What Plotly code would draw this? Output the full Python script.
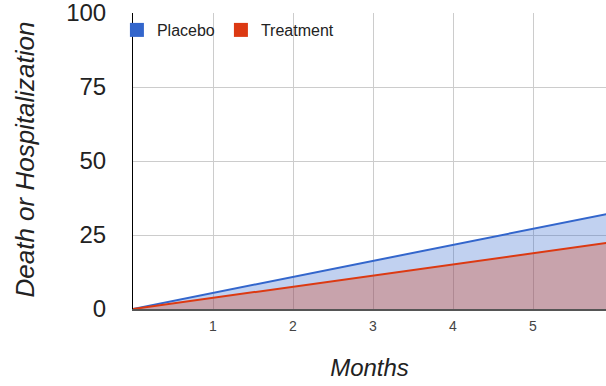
import plotly.graph_objects as go

# Cumulative event rate (%) by month
months = [0, 6]
placebo = [0, 32.5]
treatment = [0, 22.6]

series_names = ["Placebo", "Treatment"]
line_colors = ["#3366cc", "#dc3912"]
fill_colors = ["rgba(51,102,204,0.3)", "rgba(220,57,18,0.3)"]

y_ticks = [0, 25, 50, 75, 100]
x_ticks = [1, 2, 3, 4, 5]

fig = go.Figure()

for name, vals, lc, fc in zip(series_names, [placebo, treatment], line_colors, fill_colors):
    fig.add_trace(go.Scatter(
        x=months, y=vals, name=name, mode="lines",
        line=dict(color=lc, width=2),
        fill="tozeroy", fillcolor=fc,
        showlegend=False,
    ))

# square legend keys, one legend box per series so they can be spaced freely
legend_ids = ["legend", "legend2"]
for name, lc, lid in zip(series_names, line_colors, legend_ids):
    fig.add_trace(go.Scatter(
        x=[None], y=[None], name=name, mode="markers",
        marker=dict(symbol="square", size=14, color=lc),
        showlegend=True, legend=lid,
    ))

# vertical axis title, placed in the left margin
fig.add_annotation(
    text="<i>Death or Hospitalization</i>", textangle=-90,
    xref="paper", yref="paper", x=-0.2304, y=0.505,
    xanchor="center", yanchor="middle", showarrow=False,
    font=dict(size=26, color="#222222"),
)

legend_style = dict(
    orientation="h", y=1.0, xanchor="left", yanchor="top",
    bgcolor="rgba(0,0,0,0)", font=dict(size=16, color="#222222"),
    itemwidth=30,
)

fig.update_layout(
    width=606, height=386,
    margin=dict(l=133, r=0, t=13, b=77),
    paper_bgcolor="white", plot_bgcolor="white",
    font=dict(family="Liberation Sans, Arial, sans-serif", color="#222222"),
    showlegend=True,
    legend=dict(x=-0.034, **legend_style),
    legend2=dict(x=-0.034 + 104 / 473, **legend_style),
    xaxis=dict(
        range=[0, 473 / 80], tickvals=x_ticks,
        showgrid=True, gridcolor="#cccccc", gridwidth=1,
        zeroline=False, showline=True, linecolor="#555555", linewidth=2,
        ticks="", tickfont=dict(size=14, color="#444444"), ticklabelstandoff=3,
        title=dict(text="<i>Months</i>", font=dict(size=24, color="#222222"), standoff=26),
    ),
    yaxis=dict(
        range=[0, 100.0001], tickvals=y_ticks,
        showgrid=True, gridcolor="#cccccc", gridwidth=1,
        zeroline=False, showline=True, linecolor="#000000", linewidth=1,
        ticks="", tickfont=dict(size=24, color="#222222"), ticklabelstandoff=21,
        ticklabeloverflow="allow",
    ),
)

fig.write_html("out.html")
